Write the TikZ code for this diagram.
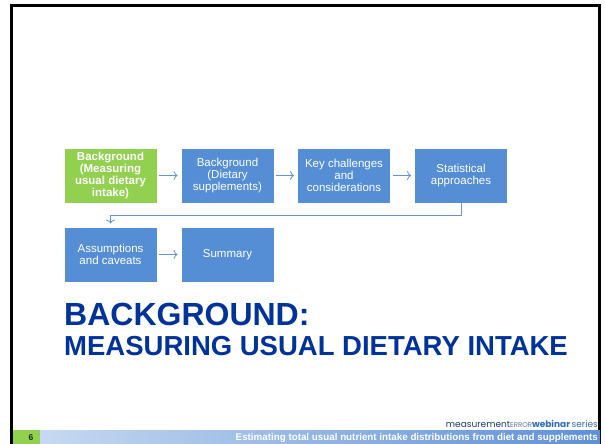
\documentclass[tikz,border=0pt]{standalone}
\usepackage{fontspec}
\setmainfont{Liberation Sans}
\newfontfamily\logofont{Poppins}
\usepackage{tikz}
\usetikzlibrary{arrows.meta,positioning,calc}
\definecolor{stepblue}{HTML}{558ED5}
\definecolor{stepgreen}{HTML}{92D050}
\definecolor{titleblue}{HTML}{003399}
\definecolor{arrowblue}{HTML}{6A93D0}
\definecolor{barlight}{HTML}{C6D9F1}
\definecolor{bardark}{HTML}{5F90D6}
\definecolor{logonavy}{HTML}{1F3A6E}
\definecolor{logoblue}{HTML}{2F6EBA}
\tikzset{stepbox/.style={draw=white,line width=0.8pt,fill=stepblue,text=white,align=center,minimum width=93pt,minimum height=55pt,inner sep=2pt,font=\fontsize{11.5}{12.3}\selectfont},flow/.style={-{To[length=4pt,width=9pt]},draw=arrowblue,line width=0.8pt,shorten >=3pt,shorten <=2pt}}

\begin{document}
\begin{tikzpicture}[x=1pt,y=-1pt,title/.style={anchor=base west,text=titleblue,inner sep=0pt,font=\bfseries},here/.style={stepbox,fill=stepgreen,font=\fontsize{11.5}{12.3}\selectfont\bfseries}]
\useasboundingbox (0,0) rectangle (605,444);
\fill[white] (0,0) rectangle (605,444);
\draw[line width=2.7pt] (11.3,444) |- (599.5,5.3) -- (599.5,444);
\node[here] (b1) at (110.5,175.5) {Background\\(Measuring\\usual dietary\\intake)};
\node[stepbox] (b2) at (227.5,175.5) {Background\\(Dietary\\supplements)};
\node[stepbox] (b3) at (344,175.5) {Key challenges\\and\\considerations};
\node[stepbox] (b4) at (461,175.5) {Statistical\\approaches};
\node[stepbox] (b5) at (110.5,254.5) {Assumptions\\and caveats};
\node[stepbox] (b6) at (227.5,254.5) {Summary};
\coordinate (turn) at (461,215);
\draw[flow] (b1)--(b2);\draw[flow] (b2)--(b3);\draw[flow] (b3)--(b4);
\draw[flow,shorten <=0pt] (b4.south)--(turn)-|(b5.north);
\draw[flow] (b5)--(b6);
\node[title,font=\fontsize{32}{32}\selectfont\bfseries] (t1) at (64,325) {BACKGROUND:};
\node[title,font=\fontsize{27.5}{27.5}\selectfont\bfseries] (t2) at (64,355) {MEASURING USUAL DIETARY INTAKE};
\fill[stepgreen] (13,430) rectangle (40,444);
\shade[left color=barlight,right color=bardark] (40,430) rectangle (600,444);
\node[font=\fontsize{8.5}{8.5}\selectfont\bfseries,text=black!85] (num) at (31,437.5) {6};
\node[anchor=east,font=\fontsize{9.8}{9.8}\selectfont\bfseries,text=white,inner sep=0pt] (foot) at (598,437.5) {Estimating total usual nutrient intake distributions from diet and supplements};
\node[anchor=base east,inner sep=0pt,font=\logofont\fontsize{9}{9}\selectfont] (logo) at (598,427) {\textcolor{logonavy}{measurement}\textcolor{logonavy!70}{\fontsize{7}{7}\selectfont ERROR}\textcolor{logoblue}{\bfseries webinar}\,\textcolor{logoblue}{series}};
\end{tikzpicture}
\end{document}
